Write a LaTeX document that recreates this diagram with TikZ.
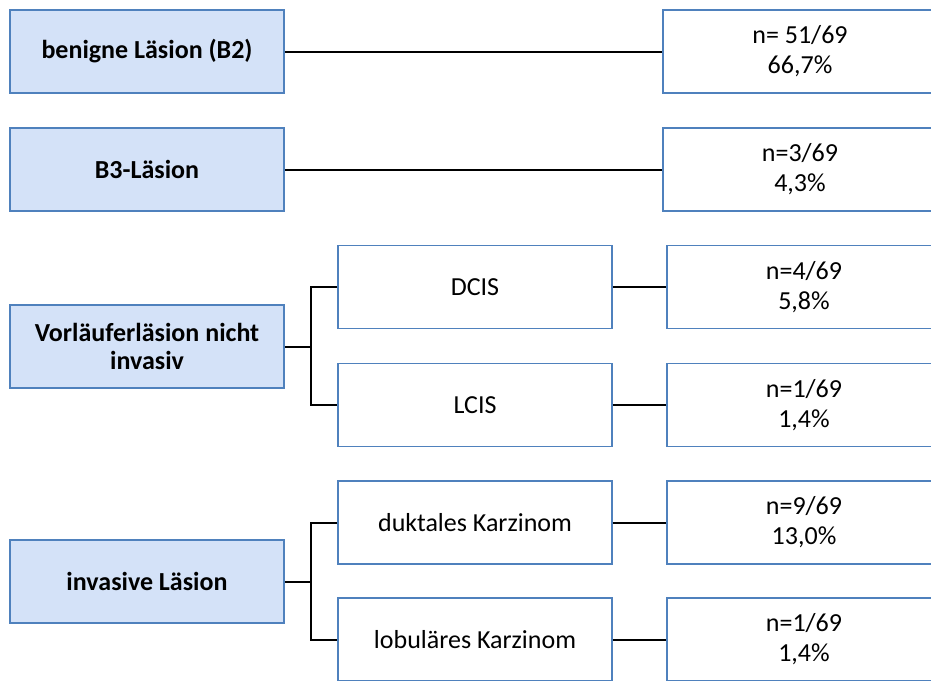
\documentclass[tikz,border=0pt]{standalone}
\usepackage{fontspec}
\setmainfont{Carlito}
\definecolor{boxfill}{HTML}{D4E2F8}
\definecolor{boxline}{HTML}{4F81BD}
\tikzset{
  base/.style={draw=boxline, line width=1.5pt, minimum width=274pt, minimum height=83pt, inner sep=0pt, align=center},
  catbox/.style={base, fill=boxfill, font=\fontsize{26}{28}\selectfont\bfseries},
  subbox/.style={base, fill=white, font=\fontsize{26}{30}\selectfont},
  valbox/.style={base, fill=white, font=\fontsize{26}{30}\selectfont},
  conn/.style={draw=black, line width=2pt}
}
\begin{document}
\begin{tikzpicture}[x=1pt,y=-1pt]
\clip (0,0) rectangle (931,680);
\fill[white] (0,0) rectangle (931,680);
% left category boxes
\node[catbox] (L1) at (147,51.5) {benigne Läsion (B2)};
\node[catbox] (L2) at (147,169.5) {B3-Läsion};
\node[catbox] (L3) at (147,346.5) {Vorläuferläsion nicht\\invasiv};
\node[catbox] (L4) at (147,581.5) {invasive Läsion};
% middle boxes
\node[subbox] (M1) at (475,287) {DCIS};
\node[subbox] (M2) at (475,405) {LCIS};
\node[subbox] (M3) at (475,522.5) {duktales Karzinom};
\node[subbox] (M4) at (475,639.5) {lobuläres Karzinom};
% right value boxes
\node[valbox] (R1) at (800,51.5) {n= 51/69\\66,7\%};
\node[valbox] (R2) at (800,169.5) {n=3/69\\4,3\%};
\node[valbox] (R3) at (804,287) {n=4/69\\5,8\%};
\node[valbox] (R4) at (804,405) {n=1/69\\1,4\%};
\node[valbox] (R5) at (804,522.5) {n=9/69\\13,0\%};
\node[valbox] (R6) at (804,639.5) {n=1/69\\1,4\%};
% junctions
\coordinate (J3) at (311,346.5);
\coordinate (J4) at (311,581.5);
% connectors
\draw[conn] (L1.east) -- (R1.west);
\draw[conn] (L2.east) -- (R2.west);
\draw[conn] (L3.east) -- (J3);
\draw[conn] (M1.west) -| (J3) |- (M2.west);
\draw[conn] (L4.east) -- (J4);
\draw[conn] (M3.west) -| (J4) |- (M4.west);
\draw[conn] (M1.east) -- (R3.west);
\draw[conn] (M2.east) -- (R4.west);
\draw[conn] (M3.east) -- (R5.west);
\draw[conn] (M4.east) -- (R6.west);
\end{tikzpicture}
\end{document}
